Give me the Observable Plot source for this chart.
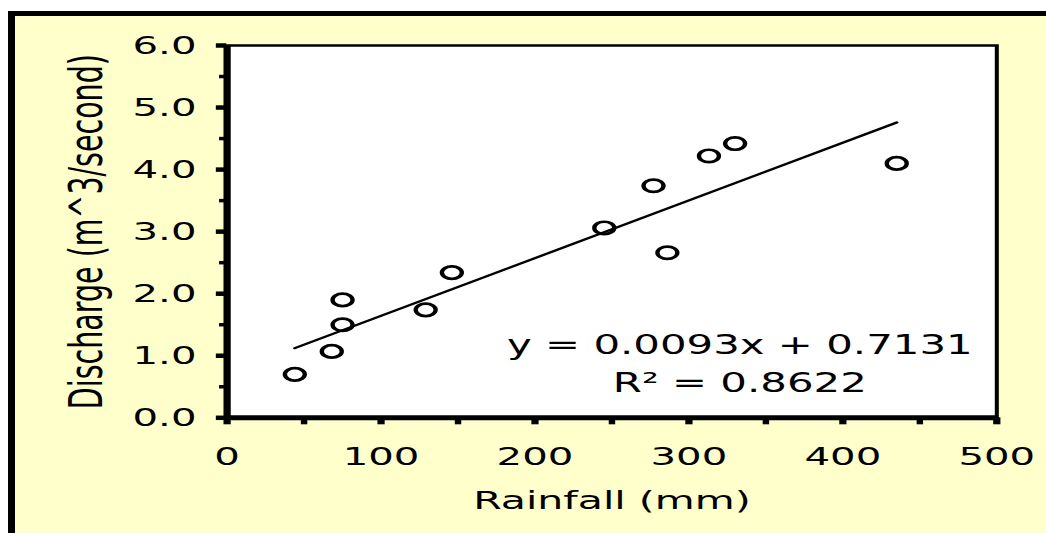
<!DOCTYPE html>
<html><head><meta charset="utf-8">
<script src="https://cdn.jsdelivr.net/npm/d3@7"></script>
<script src="https://cdn.jsdelivr.net/npm/@observablehq/plot@0.6"></script>
<style>
html,body{margin:0;padding:0;background:#fff;overflow:hidden;}
#wrap{position:relative;width:1046px;height:533px;overflow:hidden;background:#fff;}
#panel{position:absolute;left:8px;top:11px;width:1100px;height:600px;background:#FFFFCC;border-left:7px solid #000;border-top:5px solid #000;}
#chart{position:absolute;left:0;top:0;width:1046px;height:533px;}
</style></head><body>
<div id="wrap"><div id="panel"></div><div id="chart"></div></div>
<script>
(function () {
// ---- data ----
const rainfall  = [44, 68, 75, 75, 129, 146, 245, 277, 286, 313, 330, 435];
const discharge = [0.70, 1.07, 1.50, 1.90, 1.74, 2.34, 3.06, 3.74, 2.66, 4.22, 4.42, 4.10];
const slope = 0.0093;
const intercept = 0.7131;
const rSquared = 0.8622;
const xMajorTicks = [0, 100, 200, 300, 400, 500];
const xMinorTicks = [50, 150, 250, 350, 450];
const yMajorTicks = [0, 1, 2, 3, 4, 5, 6];
const yMinorTicks = [0.5, 1.5, 2.5, 3.5, 4.5, 5.5];
const xLabel = "Rainfall (mm)";
const yLabel = "Discharge (m^3/second)";

// ---- layout (reference is horizontally stretched) ----
const S = 1.61, W = 1046, H = 533, W0 = W / S;
const mLeft = 226.3 / S, mRight = W0 - 996 / S, mTop = 45, mBottom = H - 417.3;

const points = rainfall.map((x, i) => ({x, y: discharge[i]}));
const trend = d3.extent(rainfall).map(x => ({x, y: slope * x + intercept}));
const eqLine = `y = ${slope.toFixed(4)}x + ${intercept.toFixed(4)}`;
const r2Line = `R\u00B2 = ${rSquared.toFixed(4)}`;
const eqCenter = 739 / S - mLeft;

const plot = Plot.plot({
  width: W0, height: H,
  marginLeft: mLeft, marginRight: mRight, marginTop: mTop, marginBottom: mBottom,
  x: {domain: [0, 500]},
  y: {domain: [0, 6]},
  style: {background: "transparent", fontFamily: "DejaVu Sans", fontSize: "25px", color: "#000", overflow: "visible"},
  marks: [
    Plot.frame({fill: "white", stroke: "black", strokeWidth: 2.5}),
    Plot.line(trend, {x: "x", y: "y", stroke: "black", strokeWidth: 2.2}),
    Plot.dot(points, {x: "x", y: "y", r: 6.2, stroke: "black", strokeWidth: 2.7, fill: "none"}),
    Plot.axisY({ticks: yMajorTicks, tickSize: 6.5, tickPadding: 12.5, strokeWidth: 4.5, tickFormat: d => d.toFixed(1), label: null, fontSize: 25}),
    Plot.axisY({ticks: yMinorTicks, tickSize: 4.5, strokeWidth: 3.5, tickFormat: () => "", label: null}),
    Plot.axisX({ticks: xMajorTicks, tickSize: 7, tickPadding: 22, strokeWidth: 4.5, tickFormat: d => `${d}`, label: null, fontSize: 25}),
    Plot.axisX({ticks: xMinorTicks, tickSize: 7, strokeWidth: 4, tickFormat: () => "", label: null}),
    Plot.ruleX([0], {stroke: "black", strokeWidth: 4.5}),
    Plot.ruleY([0], {stroke: "black", strokeWidth: 5}),
    Plot.text([xLabel], {frameAnchor: "bottom", dy: 91, lineAnchor: "bottom", textAnchor: "middle", fontSize: 25.5, fill: "black"}),
    Plot.text([yLabel], {frameAnchor: "left", dx: 54 - mLeft, rotate: -90, lineAnchor: "middle", textAnchor: "middle", fontSize: 28.5, fill: "black"}),
    Plot.text([eqLine], {frameAnchor: "bottom-left", dx: eqCenter, dy: 353 - 417.3, lineAnchor: "bottom", textAnchor: "middle", fontSize: 26, fill: "black"}),
    Plot.text([r2Line], {frameAnchor: "bottom-left", dx: eqCenter, dy: 391 - 417.3, lineAnchor: "bottom", textAnchor: "middle", fontSize: 26, fill: "black"})
  ]
});
plot.setAttribute("width", W);
plot.setAttribute("height", H);
plot.setAttribute("viewBox", `0 0 ${W0} ${H}`);
plot.setAttribute("preserveAspectRatio", "none");
plot.style.width = W + "px";
plot.style.height = H + "px";
plot.style.maxWidth = "none";
document.getElementById("chart").appendChild(plot);
})();
</script>
</body></html>
